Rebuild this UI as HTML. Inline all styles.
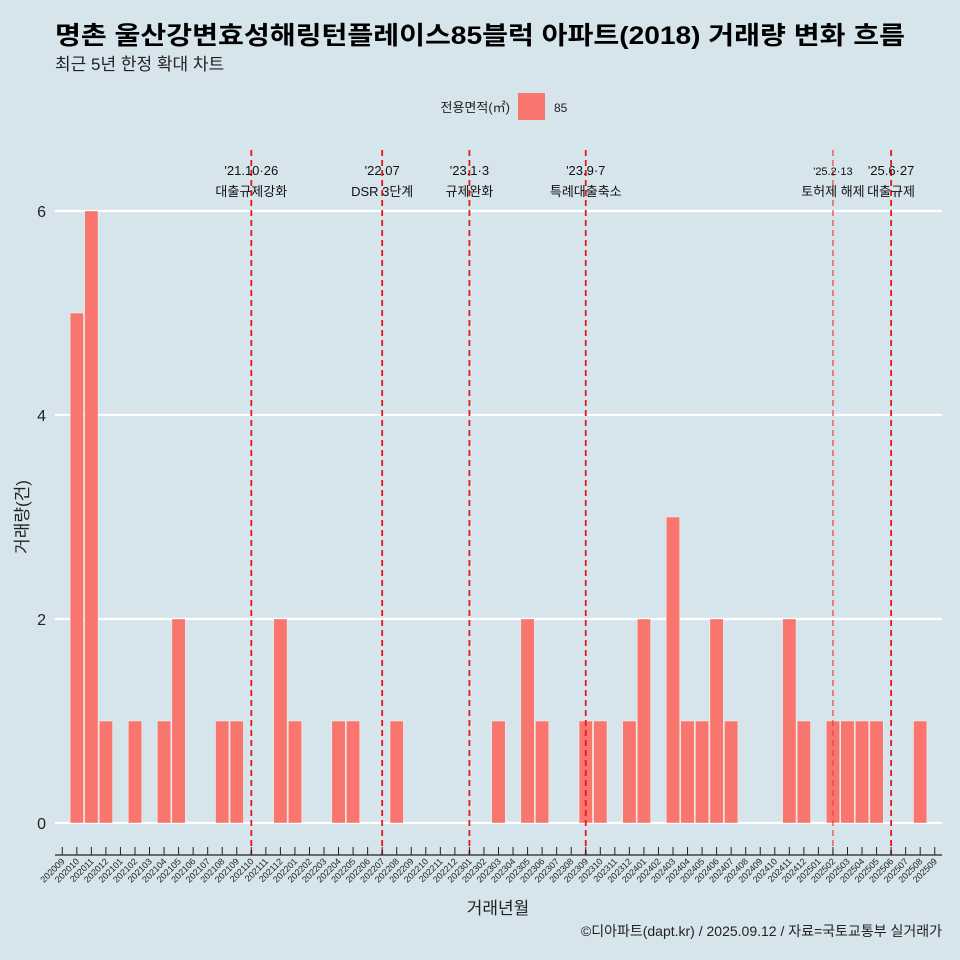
<!DOCTYPE html>
<html><head><meta charset="utf-8"><style>
body{margin:0;background:#d6e4eb;}
svg{display:block;font-family:"Liberation Sans","Noto Sans CJK KR",sans-serif;}
</style></head><body>
<svg id="chart" width="960" height="960" viewBox="0 0 960 960">
<rect width="960" height="960" fill="#d6e4eb"/>
<text x="55" y="44" font-size="25" font-weight="bold" fill="#000" textLength="850" lengthAdjust="spacingAndGlyphs">명촌 울산강변효성해링턴플레이스85블럭 아파트(2018) 거래량 변화 흐름</text>
<text x="55" y="70" font-size="17" fill="#222">최근 5년 한정 확대 차트</text>
<g>
<text x="510" y="112" font-size="13" text-anchor="end" fill="#222">전용면적(㎡)</text>
<rect x="518" y="93" width="27" height="27" fill="#f8766d"/>
<text x="554" y="112" font-size="12" fill="#222">85</text>
</g>
<g id="grid"></g><g id="bars"></g><g id="events"></g><g id="xaxis"></g>
<text x="28" y="517" font-size="17" fill="#222" text-anchor="middle" transform="rotate(-90 28 517)">거래량(건)</text>
<text x="498" y="914" font-size="17" fill="#222" text-anchor="middle">거래년월</text>
<text x="942" y="936" font-size="14" fill="#222" text-anchor="end">©디아파트(dapt.kr) / 2025.09.12 / 자료=국토교통부 실거래가</text>
</svg>
<script>
const months=[];
for(let y=2020,m=9;!(y===2025&&m===10);){months.push(''+y+(m<10?'0':'')+m);m++;if(m>12){m=1;y++;}}
const saleMonths=["202010","202011","202012","202102","202104","202105","202108","202109","202112","202201","202204","202205","202208","202303","202305","202306","202309","202310","202312","202401","202403","202404","202405","202406","202407","202411","202412","202502","202503","202504","202505","202508"];
const saleCounts=[5,6,1,1,1,2,1,1,2,1,1,1,1,1,2,1,1,1,1,2,3,1,1,2,1,2,1,1,1,1,1,1];
const yTicks=[0,2,4,6];
const eventMonths=["202110","202207","202301","202309","202502","202506"];
const eventDates=["'21.10·26","'22.07","'23.1·3","'23.9·7","'25.2·13","'25.6·27"];
const eventLabels=["대출규제강화","DSR 3단계","규제완화","특례대출축소","토허제 해제","대출규제"];
const NS='http://www.w3.org/2000/svg';
const x0=55,x1=942,y0=823,ppu=102;
const step=(x1-x0)/months.length;
const xS=m=>x0+step*(months.indexOf(m)+0.5);
const yS=v=>y0-v*ppu;
function mk(tag,at,parent){const e=document.createElementNS(NS,tag);for(const k in at)e.setAttribute(k,at[k]);document.getElementById(parent).appendChild(e);return e;}
yTicks.forEach(t=>{
 const l=mk('line',{x1:x0,x2:x1,y1:yS(t),y2:yS(t),stroke:'#fff','stroke-width':2.2},'grid');
 
 
 const tx=mk('text',{x:46,y:yS(t)+6,'font-size':16,'text-anchor':'end',fill:'#222'},'grid');
 tx.textContent=t;
 
 
});
saleMonths.forEach((m,i)=>{
 const cx=xS(m),w=step*0.92;
 const r=mk('rect',{x:cx-w/2,y:yS(saleCounts[i]),width:w,height:saleCounts[i]*ppu,fill:'#f8766d',stroke:'#fff','stroke-width':0.4},'bars');
 
 
});
eventMonths.forEach((m,i)=>{
 const cx=xS(m);
 const thin=m==='202502';
 const l=mk('line',{x1:cx,x2:cx,y1:150,y2:855,stroke:thin?'#f04040':'#e8161b','stroke-width':thin?1.2:1.8,'stroke-dasharray':'6,4'},'events');
 
 
 const t1=mk('text',{x:cx,y:175,'font-size':thin?11:13,'text-anchor':'middle',fill:'#111'},'events');
 t1.textContent=eventDates[i];
 
 
 const t2=mk('text',{x:cx,y:196,'font-size':13,'text-anchor':'middle',fill:'#111'},'events');
 t2.textContent=eventLabels[i];
 
 
});
const ax=mk('line',{x1:x0,x2:x1,y1:855,y2:855,stroke:'#222','stroke-width':1.2},'xaxis');


months.forEach(m=>{
 const cx=xS(m);
 const tk=mk('line',{x1:cx,x2:cx,y1:847,y2:855,stroke:'#222','stroke-width':1},'xaxis');
 
 
 const t=mk('text',{x:cx+3,y:862,'font-size':9,'text-anchor':'end',fill:'#222',transform:`rotate(-45 ${cx+3} 862)`},'xaxis');
 t.textContent=m;
 
 
});
</script>
</body></html>
